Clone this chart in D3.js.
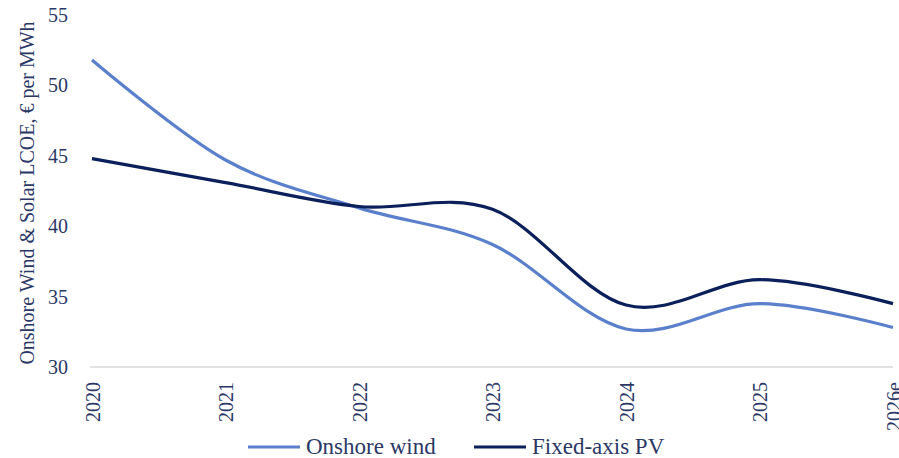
<!DOCTYPE html>
<html>
<head>
<meta charset="utf-8">
<script src="https://cdn.jsdelivr.net/npm/d3@7"></script>
<style>
  body { margin: 0; background: #fff; }
  text { font-family: "Liberation Serif", "DejaVu Serif", serif; }
</style>
</head>
<body>
<div id="chart"></div>
<script>
const years = ["2020", "2021", "2022", "2023", "2024", "2025", "2026e"];
const onshoreWind = [51.8, 44.7, 41.3, 38.7, 32.7, 34.5, 32.8];
const fixedAxisPV = [44.8, 43.1, 41.4, 41.2, 34.4, 36.2, 34.5];
const yTicks = [30, 35, 40, 45, 50, 55];

const width = 899;
const height = 458;
const textColor = "#2b3866";

const svg = d3.select("#chart")
    .append("svg")
    .attr("width", width)
    .attr("height", height);

const x = d3.scalePoint()
    .domain(years)
    .range([92, 893]);

const y = d3.scaleLinear()
    .domain([30, 55])
    .range([367, 15]);

// baseline
svg.append("line")
    .attr("x1", 90)
    .attr("x2", 893)
    .attr("y1", y(30))
    .attr("y2", y(30))
    .attr("stroke", "#d9d9d9")
    .attr("stroke-width", 1.5);

// y axis
const yAxis = svg.append("g")
    .attr("transform", "translate(68,0)")
    .call(d3.axisLeft(y).tickValues(yTicks).tickSize(0).tickPadding(0));
yAxis.select(".domain").remove();
yAxis.selectAll("text")
    .attr("font-size", "20px")
    .attr("fill", textColor);

// x axis
const xAxis = svg.append("g")
    .attr("transform", `translate(0,${y(30)})`)
    .call(d3.axisBottom(x).tickSize(0));
xAxis.select(".domain").remove();
xAxis.selectAll("text")
    .attr("font-size", "20px")
    .attr("fill", textColor)
    .attr("text-anchor", "end")
    .attr("dy", null)
    .attr("y", 0)
    .attr("transform", "translate(7,15) rotate(-90)");

// y title
svg.append("text")
    .attr("transform", "translate(34,193) rotate(-90)")
    .attr("text-anchor", "middle")
    .attr("font-size", "20px")
    .attr("fill", textColor)
    .text("Onshore Wind & Solar LCOE, € per MWh");

const line = d3.line()
    .x((d, i) => x(years[i]))
    .y(d => y(d))
    .curve(d3.curveCardinal.tension(0));

const series = [
    { name: "Onshore wind", values: onshoreWind, color: "#5a7fcb" },
    { name: "Fixed-axis PV", values: fixedAxisPV, color: "#0b1f5b" }
];

svg.selectAll("path.series")
    .data(series)
    .enter()
    .append("path")
    .attr("class", "series")
    .attr("d", d => line(d.values))
    .attr("fill", "none")
    .attr("stroke", d => d.color)
    .attr("stroke-width", 3.2);

// legend
const legend = svg.selectAll("g.legend")
    .data(series)
    .enter()
    .append("g")
    .attr("class", "legend")
    .attr("transform", (d, i) => `translate(${248 + i * 226},447)`);

legend.append("line")
    .attr("x1", 0)
    .attr("x2", 52)
    .attr("stroke", d => d.color)
    .attr("stroke-width", 3.2);

legend.append("text")
    .attr("x", 58)
    .attr("y", 7)
    .attr("font-size", "23px")
    .attr("fill", textColor)
    .text(d => d.name);
</script>
</body>
</html>
